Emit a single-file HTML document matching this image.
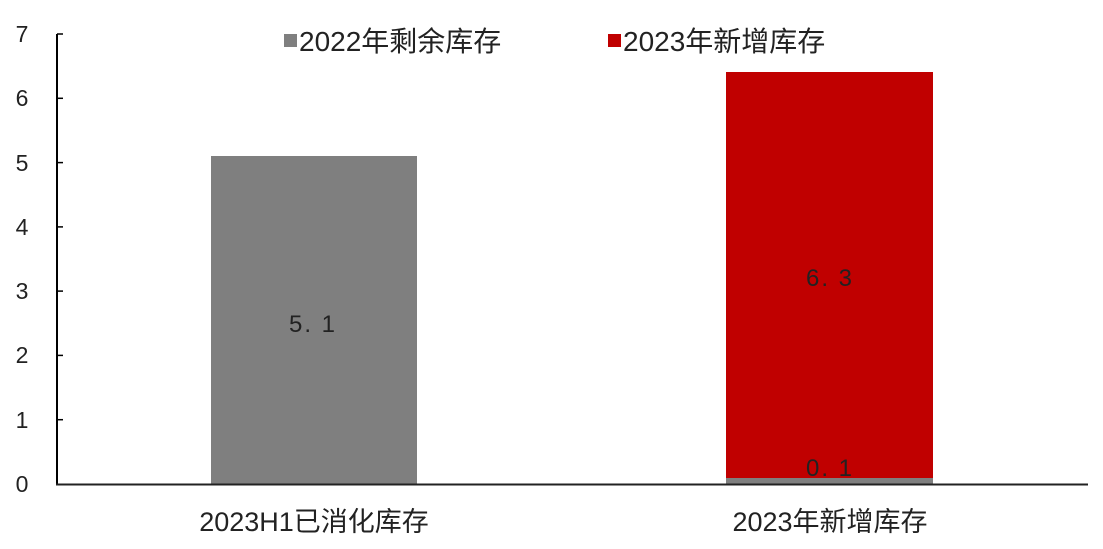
<!DOCTYPE html>
<html><head><meta charset="utf-8"><style>
html,body{margin:0;padding:0;background:#fff;}
svg{display:block;}
text{font-family:"Liberation Sans","Noto Sans CJK SC",sans-serif;}
</style></head><body>
<svg width="1103" height="549" viewBox="0 0 1103 549" xmlns="http://www.w3.org/2000/svg">
<rect width="1103" height="549" fill="#fff"/>
<rect x="211" y="156" width="206" height="328" fill="#7f7f7f"/>
<rect x="726" y="72" width="207" height="406" fill="#c00000"/>
<rect x="726" y="478" width="207" height="6" fill="#7f7f7f"/>
<line x1="57" y1="34" x2="57" y2="485" stroke="#000" stroke-width="2"/>
<line x1="56" y1="484.5" x2="1088" y2="484.5" stroke="#222" stroke-width="2"/>
<g stroke="#000" stroke-width="1.5">
<line x1="57" y1="34" x2="63" y2="34"/>
<line x1="57" y1="98.3" x2="63" y2="98.3"/>
<line x1="57" y1="162.6" x2="63" y2="162.6"/>
<line x1="57" y1="226.9" x2="63" y2="226.9"/>
<line x1="57" y1="291.1" x2="63" y2="291.1"/>
<line x1="57" y1="355.4" x2="63" y2="355.4"/>
<line x1="57" y1="419.7" x2="63" y2="419.7"/>
</g>
<g font-size="23" fill="#222" text-anchor="middle">
<text x="22" y="42">7</text>
<text x="22" y="106">6</text>
<text x="22" y="171">5</text>
<text x="22" y="235">4</text>
<text x="22" y="299">3</text>
<text x="22" y="363">2</text>
<text x="22" y="428">1</text>
<text x="22" y="492">0</text>
</g>
<g font-size="24" fill="#222" text-anchor="middle" letter-spacing="2">
<text x="313" y="332">5. 1</text>
<text x="830" y="286">6. 3</text>
<text x="830" y="476">0. 1</text>
</g>
<g font-size="27" fill="#222" text-anchor="middle">
<text x="314" y="531">2023H1已消化库存</text>
<text x="830" y="531">2023年新增库存</text>
</g>
<rect x="284" y="34" width="13" height="13" fill="#7f7f7f"/>
<text x="299" y="51" font-size="28" fill="#222">2022年剩余库存</text>
<rect x="608" y="34" width="13" height="13" fill="#c00000"/>
<text x="623" y="51" font-size="28" fill="#222">2023年新增库存</text>
</svg>
</body></html>
